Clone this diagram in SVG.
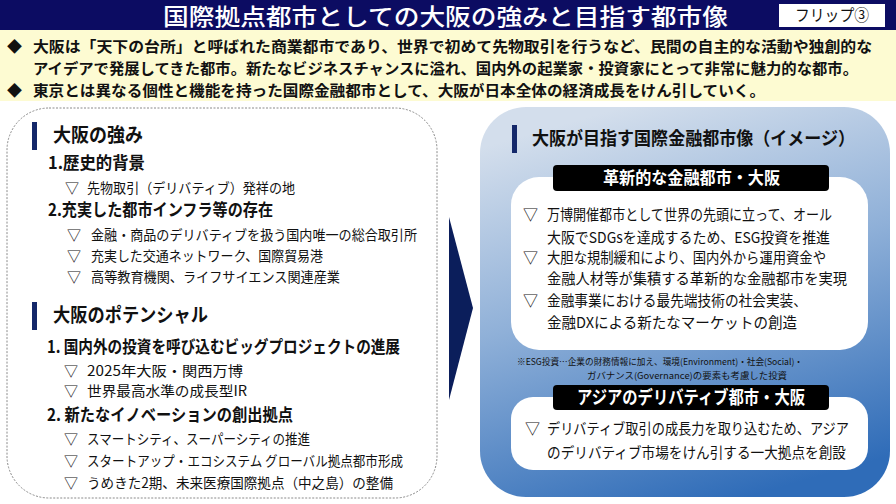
<svg xmlns="http://www.w3.org/2000/svg" width="896" height="504" viewBox="0 0 896 504">
<defs>
<linearGradient id="gBlue" x1="0.35" y1="0" x2="0.65" y2="1">
<stop offset="0" stop-color="#d3deec"/>
<stop offset="0.45" stop-color="#8fb0d8"/>
<stop offset="1" stop-color="#2f6cb8"/>
</linearGradient>
<style>
text{font-family:"Noto Sans CJK JP","Noto Sans",sans-serif;fill:#111}
.b{font-weight:700}
.t14{font-size:14px}
.t15{font-size:15px}
.t16{font-size:16px}
.t17{font-size:17px}
.t18{font-size:18px}
.t19{font-size:19px}
.w{fill:#fff}
.bar{fill:#14286a}
.lbl{fill:#000}
.wbox{fill:#fff}
</style>
</defs>
<rect x="0" y="0" width="896" height="504" fill="#fff"/>
<g id="title">
<rect x="0" y="0" width="896" height="30" fill="#0c0c62"/>
<text x="163" y="25" class="w" font-size="23" font-weight="500" textLength="565" lengthAdjust="spacingAndGlyphs">国際拠点都市としての大阪の強みと目指す都市像</text>
<rect x="779" y="4" width="106" height="23" fill="#fff"/>
<text x="795" y="21" class="t16" fill="#222" textLength="74" lengthAdjust="spacingAndGlyphs">フリップ③</text>
</g>
<g id="intro">
<rect x="0" y="30" width="896" height="71" fill="#fdfbd2"/>
<text x="7" y="52" class="t15">◆</text>
<text x="33" y="52" class="t15 b" textLength="839" lengthAdjust="spacingAndGlyphs">大阪は「天下の台所」と呼ばれた商業都市であり、世界で初めて先物取引を行うなど、民間の自主的な活動や独創的な</text>
<text x="33" y="74" class="t15 b" textLength="825" lengthAdjust="spacingAndGlyphs">アイデアで発展してきた都市。新たなビジネスチャンスに溢れ、国内外の起業家・投資家にとって非常に魅力的な都市。</text>
<text x="7" y="96" class="t15">◆</text>
<text x="33" y="96" class="t15 b" textLength="732" lengthAdjust="spacingAndGlyphs">東京とは異なる個性と機能を持った国際金融都市として、大阪が日本全体の経済成長をけん引していく。</text>
</g>
<g id="panel-left">
<rect x="7" y="108" width="430" height="390" rx="42" fill="#fff" stroke="#8a8a8a" stroke-width="1" stroke-dasharray="2 1.5"/>
<rect x="32" y="122" width="5" height="28" class="bar"/>
<text x="53" y="142" class="t19 b" textLength="90" lengthAdjust="spacingAndGlyphs">大阪の強み</text>
<text x="48" y="169" class="t17 b" textLength="97" lengthAdjust="spacingAndGlyphs">1.歴史的背景</text>
<text x="65" y="193" class="t14">▽</text>
<text x="87" y="193" class="t14" textLength="208" lengthAdjust="spacingAndGlyphs">先物取引（デリバティブ）発祥の地</text>
<text x="48" y="216" class="t17 b" textLength="225" lengthAdjust="spacingAndGlyphs">2.充実した都市インフラ等の存在</text>
<text x="67" y="240" class="t14">▽</text>
<text x="91" y="240" class="t14" textLength="326" lengthAdjust="spacingAndGlyphs">金融・商品のデリバティブを扱う国内唯一の総合取引所</text>
<text x="67" y="261" class="t14">▽</text>
<text x="91" y="261" class="t14" textLength="232" lengthAdjust="spacingAndGlyphs">充実した交通ネットワーク、国際貿易港</text>
<text x="67" y="282" class="t14">▽</text>
<text x="91" y="282" class="t14" textLength="249" lengthAdjust="spacingAndGlyphs">高等教育機関、ライフサイエンス関連産業</text>
<rect x="32" y="302" width="5" height="28" class="bar"/>
<text x="53" y="322" class="t19 b" textLength="155" lengthAdjust="spacingAndGlyphs">大阪のポテンシャル</text>
<text x="47" y="353" class="t17 b" textLength="353" lengthAdjust="spacingAndGlyphs">1. 国内外の投資を呼び込むビッグプロジェクトの進展</text>
<text x="64" y="376" class="t14">▽</text>
<text x="87" y="376" class="t14" textLength="156" lengthAdjust="spacingAndGlyphs">2025年大阪・関西万博</text>
<text x="64" y="396" class="t14">▽</text>
<text x="87" y="396" class="t14" textLength="160" lengthAdjust="spacingAndGlyphs">世界最高水準の成長型IR</text>
<text x="47" y="421" class="t17 b" textLength="246" lengthAdjust="spacingAndGlyphs">2. 新たなイノベーションの創出拠点</text>
<text x="64" y="444" class="t14">▽</text>
<text x="87" y="444" class="t14" textLength="223" lengthAdjust="spacingAndGlyphs">スマートシティ、スーパーシティの推進</text>
<text x="64" y="466" class="t14">▽</text>
<text x="87" y="466" class="t14" textLength="316" lengthAdjust="spacingAndGlyphs">スタートアップ・エコシステム グローバル拠点都市形成</text>
<text x="64" y="488" class="t14">▽</text>
<text x="87" y="488" class="t14" textLength="306" lengthAdjust="spacingAndGlyphs">うめきた2期、未来医療国際拠点（中之島）の整備</text>
</g>
<g id="connectors">
<polygon points="449,217 473,308 449,400" fill="#0b1e5b"/>
</g>
<g id="panel-right">
<rect x="480" y="107" width="410" height="390" rx="46" fill="url(#gBlue)"/>
<rect x="512" y="125" width="5" height="28" class="bar"/>
<text x="532" y="145" class="t18 b" textLength="323" lengthAdjust="spacingAndGlyphs">大阪が目指す国際金融都市像（イメージ）</text>
</g>
<g id="box-innovative">
<rect x="511" y="177" width="357" height="173" rx="28" class="wbox"/>
<rect x="553" y="165" width="276" height="26" rx="4" class="lbl"/>
<text x="603" y="184" class="t17 b w" textLength="177" lengthAdjust="spacingAndGlyphs">革新的な金融都市・大阪</text>
<text x="523" y="220" class="t15">▽</text>
<text x="547" y="220" class="t15" textLength="285" lengthAdjust="spacingAndGlyphs">万博開催都市として世界の先頭に立って、オール</text>
<text x="547" y="243" class="t15" textLength="283" lengthAdjust="spacingAndGlyphs">大阪でSDGsを達成するため、ESG投資を推進</text>
<text x="523" y="263" class="t15">▽</text>
<text x="547" y="263" class="t15" textLength="279" lengthAdjust="spacingAndGlyphs">大胆な規制緩和により、国内外から運用資金や</text>
<text x="547" y="284" class="t15" textLength="300" lengthAdjust="spacingAndGlyphs">金融人材等が集積する革新的な金融都市を実現</text>
<text x="523" y="306" class="t15">▽</text>
<text x="547" y="306" class="t15" textLength="260" lengthAdjust="spacingAndGlyphs">金融事業における最先端技術の社会実装、</text>
<text x="547" y="328" class="t15" textLength="250" lengthAdjust="spacingAndGlyphs">金融DXによる新たなマーケットの創造</text>
</g>
<g id="footnote">
<text x="517" y="365" font-size="9" textLength="286" lengthAdjust="spacingAndGlyphs">※ESG投資…企業の財務情報に加え、環境(Environment)・社会(Social)・</text>
<text x="587" y="378.5" font-size="9" textLength="200" lengthAdjust="spacingAndGlyphs">ガバナンス(Governance)の要素も考慮した投資</text>
</g>
<g id="box-derivative">
<rect x="511" y="397" width="357" height="73" rx="22" class="wbox"/>
<rect x="553" y="385" width="276" height="25" rx="4" class="lbl"/>
<text x="577" y="404" class="t18 b w" textLength="228" lengthAdjust="spacingAndGlyphs">アジアのデリバティブ都市・大阪</text>
<text x="525" y="434" class="t15">▽</text>
<text x="547" y="434" class="t15" textLength="302" lengthAdjust="spacingAndGlyphs">デリバティブ取引の成長力を取り込むため、アジア</text>
<text x="547" y="458" class="t15" textLength="299" lengthAdjust="spacingAndGlyphs">のデリバティブ市場をけん引する一大拠点を創設</text>
</g>
</svg>
